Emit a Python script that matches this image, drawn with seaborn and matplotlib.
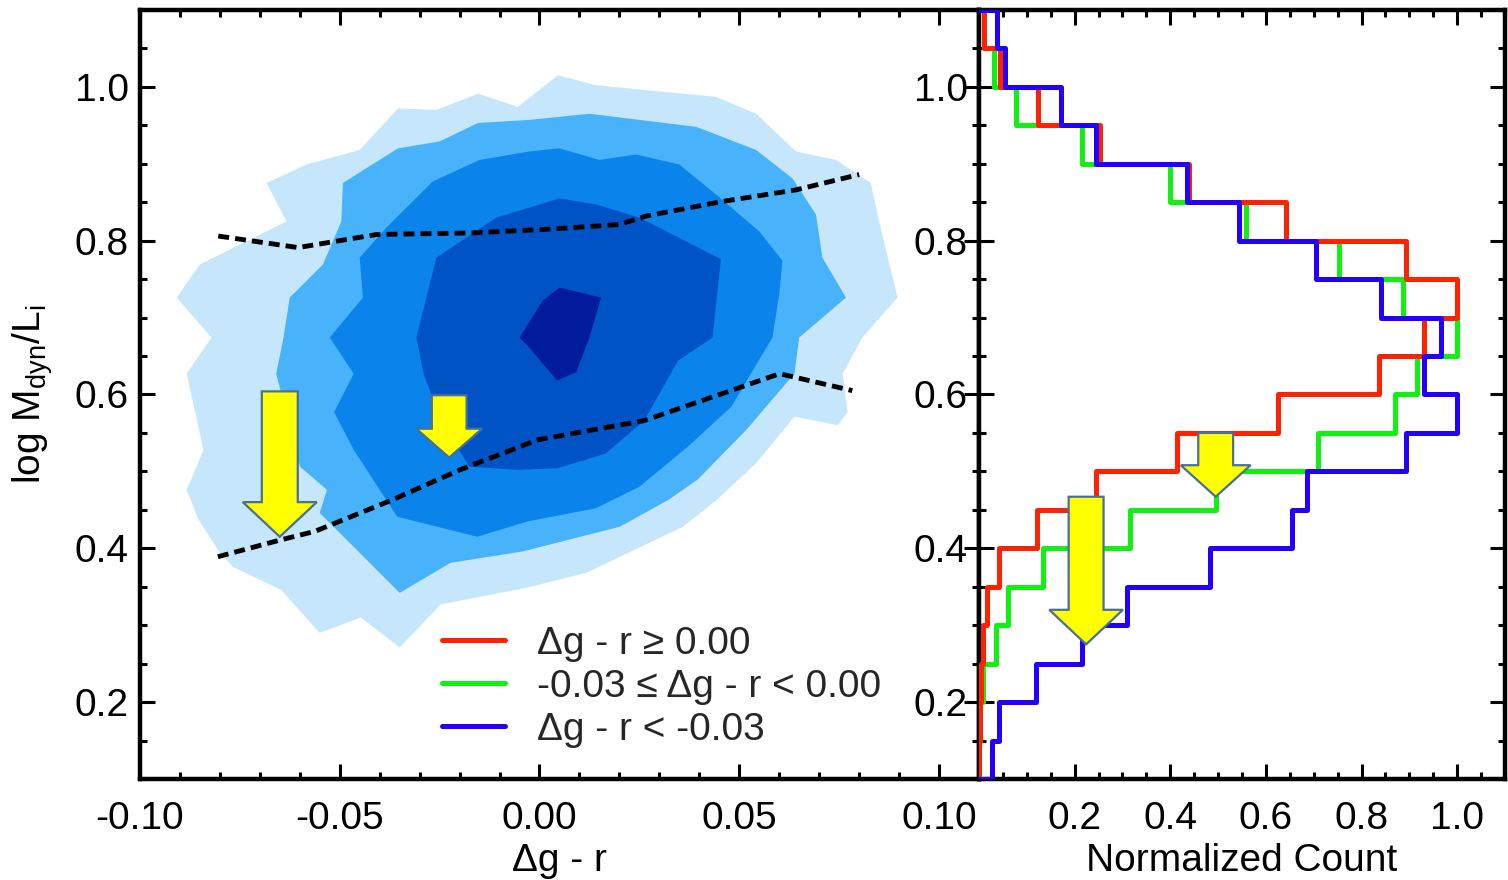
import numpy as np
import pandas as pd
import matplotlib
matplotlib.use("Agg")
import matplotlib.pyplot as plt
from matplotlib.lines import Line2D
from matplotlib.patches import FancyArrow
from matplotlib.ticker import MultipleLocator, FixedLocator, FixedFormatter
import seaborn as sns

# ---------------------------------------------------------------- data
# density contours of log Mdyn/L_i vs. delta(g - r), outermost level first
level1_x = [-0.0908, -0.0850, -0.0633, -0.0683, -0.0583, -0.0450, -0.0354, -0.0258, -0.0154, -0.0054,
            0.0046, 0.0142, 0.0442, 0.0542, 0.0642, 0.0742, 0.0829, 0.0850, 0.0896, 0.0808,
            0.0759, 0.0771, 0.0747, 0.0638, 0.0541, 0.0444, 0.0359, 0.0117, -0.0029, -0.0247,
            -0.0350, -0.0447, -0.0550, -0.0647, -0.0768, -0.0805, -0.0853, -0.0883, -0.0841, -0.0883,
            -0.0821]
level1_y = [0.726, 0.769, 0.825, 0.875, 0.899, 0.918, 0.972, 0.970, 0.991, 0.974,
            1.015, 1.002, 0.987, 0.965, 0.916, 0.905, 0.875, 0.825, 0.726, 0.674,
            0.627, 0.577, 0.560, 0.571, 0.510, 0.463, 0.428, 0.368, 0.349, 0.327,
            0.271, 0.310, 0.290, 0.346, 0.376, 0.398, 0.437, 0.476, 0.528, 0.627,
            0.674]

level2_x = [-0.0625, -0.0542, -0.0496, -0.0492, -0.0354, -0.0250, -0.0154, -0.0025, 0.0125, 0.0392,
            0.0542, 0.0633, 0.0692, 0.0708, 0.0767, 0.0650, 0.0638, 0.0516, 0.0395, 0.0323,
            0.0201, -0.0041, -0.0223, -0.0350, -0.0465, -0.0550, -0.0532, -0.0599, -0.0659, -0.0642]
level2_y = [0.726, 0.769, 0.825, 0.875, 0.920, 0.929, 0.953, 0.957, 0.965, 0.948,
            0.918, 0.881, 0.834, 0.778, 0.726, 0.674, 0.627, 0.553, 0.489, 0.463,
            0.428, 0.396, 0.381, 0.342, 0.402, 0.446, 0.476, 0.506, 0.627, 0.670]

level3_x = [-0.0525, -0.0442, -0.0450, -0.0383, -0.0267, -0.0150, -0.0025, 0.0050, 0.0150, 0.0242,
            0.0350, 0.0442, 0.0550, 0.0608, 0.0600, 0.0583, 0.0480, 0.0371, 0.0250, 0.0141,
            -0.0029, -0.0156, -0.0356, -0.0465, -0.0514, -0.0465]
level3_y = [0.674, 0.726, 0.778, 0.817, 0.877, 0.905, 0.916, 0.920, 0.905, 0.912,
            0.899, 0.860, 0.812, 0.774, 0.730, 0.674, 0.584, 0.532, 0.480, 0.452,
            0.435, 0.415, 0.441, 0.528, 0.577, 0.627]

level4_x = [-0.0308, -0.0258, -0.0108, -0.0025, 0.0050, 0.0142, 0.0250, 0.0454, 0.0433, 0.0347,
            0.0262, 0.0165, 0.0044, -0.0053, -0.0175, -0.0247, -0.0290]
level4_y = [0.674, 0.778, 0.830, 0.843, 0.855, 0.847, 0.830, 0.776, 0.674, 0.644,
            0.566, 0.523, 0.504, 0.502, 0.506, 0.566, 0.627]

level5_x = [-0.0050, 0.0008, 0.0050, 0.0154, 0.0125, 0.0092, 0.0044, -0.0029]
level5_y = [0.674, 0.722, 0.739, 0.726, 0.674, 0.629, 0.618, 0.663]

level_colors = ["#c6e6fb", "#48b3fa", "#0a83ea", "#0053c5", "#001b9b"]

# dashed envelope curves
upper_x = [-0.0804, -0.0604, -0.0408, -0.0175, 0.0025, 0.0200, 0.0267, 0.0458, 0.0642, 0.0800]
upper_y = [0.806, 0.791, 0.808, 0.810, 0.815, 0.821, 0.832, 0.851, 0.866, 0.886]
lower_x = [-0.0805, -0.0647, -0.0562, -0.0368, -0.0199, -0.0005, 0.0262, 0.0601, 0.0783]
lower_y = [0.389, 0.411, 0.422, 0.463, 0.502, 0.541, 0.566, 0.627, 0.605]

# normalized histograms of log Mdyn/L_i, bins of 0.05 from 0.10 to 1.10
bin_low = [0.10, 0.15, 0.20, 0.25, 0.30, 0.35, 0.40, 0.45, 0.50, 0.55,
           0.60, 0.65, 0.70, 0.75, 0.80, 0.85, 0.90, 0.95, 1.00, 1.05]
hist_red = [0.001, 0.003, 0.005, 0.008, 0.016, 0.041, 0.121, 0.245, 0.415, 0.626,
            0.837, 0.930, 1.000, 0.894, 0.643, 0.440, 0.253, 0.123, 0.044, 0.010]
hist_green = [0.001, 0.002, 0.009, 0.035, 0.060, 0.134, 0.315, 0.495, 0.709, 0.871,
              0.915, 1.000, 0.887, 0.752, 0.558, 0.400, 0.216, 0.077, 0.032, 0.010]
hist_blue = [0.028, 0.041, 0.120, 0.215, 0.310, 0.483, 0.655, 0.687, 0.892, 1.000,
             0.931, 0.967, 0.840, 0.704, 0.544, 0.434, 0.245, 0.171, 0.055, 0.037]

labels = ["\u0394g - r \u2265 0.00",
          "-0.03 \u2264 \u0394g - r < 0.00",
          "\u0394g - r < -0.03"]
colors = {"red": "#ff2200", "green": "#11f011", "blue": "#2200ff"}

x_ticks_left = [-0.10, -0.05, 0.00, 0.05, 0.10]
x_ticks_right = [0.0, 0.2, 0.4, 0.6, 0.8, 1.0]
y_ticks = [0.2, 0.4, 0.6, 0.8, 1.0]

# ---------------------------------------------------------------- style
sns.set_theme(style="ticks")
plt.rcParams["font.family"] = ["Liberation Sans", "DejaVu Sans"]
plt.rcParams["axes.unicode_minus"] = False
plt.rcParams["mathtext.default"] = "regular"
FS = 28

fig = plt.figure(figsize=(15.08, 8.8), dpi=100)
fig.patch.set_facecolor("white")
ax1 = fig.add_axes([0.0928, 0.1148, 0.5564, 0.8739])
ax2 = fig.add_axes([0.6492, 0.1148, 0.3488, 0.8739])


def frame(ax):
    ax.set_facecolor("white")
    ax.grid(False)
    for s in ax.spines.values():
        s.set_visible(True)
        s.set_linewidth(3.2)
        s.set_color("black")
    ax.tick_params(which="both", direction="in", top=True, right=True,
                   bottom=True, left=True, color="black", width=2.2,
                   labelsize=FS, labelcolor="black")
    ax.tick_params(which="major", length=11)
    ax.tick_params(which="minor", length=5)
    ax.tick_params(axis="x", which="both", pad=16)
    ax.tick_params(axis="y", which="both", pad=8)


# ---------------------------------------------------------------- left panel
levels = [(level1_x, level1_y), (level2_x, level2_y), (level3_x, level3_y),
          (level4_x, level4_y), (level5_x, level5_y)]
for (lx, ly), c in zip(levels, level_colors):
    ax1.fill(lx, ly, color=c, linewidth=0, zorder=1)

dash = (0, (2.25, 1.25))
sns.lineplot(x=upper_x, y=upper_y, sort=False, estimator=None, color="black",
             linewidth=3.5, linestyle=dash, ax=ax1, zorder=3)
sns.lineplot(x=lower_x, y=lower_y, sort=False, estimator=None, color="black",
             linewidth=3.5, linestyle=dash, ax=ax1, zorder=3)

ax1.set_xlim(-0.10, 0.11)
ax1.set_ylim(0.10, 1.10)
frame(ax1)
ax1.xaxis.set_major_locator(FixedLocator(x_ticks_left))
ax1.xaxis.set_major_formatter(FixedFormatter([f"{v:.2f}" for v in x_ticks_left]))
ax1.xaxis.set_minor_locator(MultipleLocator(0.01))
ax1.yaxis.set_major_locator(FixedLocator(y_ticks))
ax1.yaxis.set_major_formatter(FixedFormatter([f"{v:.1f}" for v in y_ticks]))
ax1.yaxis.set_minor_locator(MultipleLocator(0.05))
ax1.set_xlabel("\u0394g - r", fontsize=FS, labelpad=4, color="black")
ax1.set_ylabel("log M$_{dyn}$/L$_{i}$", fontsize=FS, labelpad=14, color="black")

arrow_kw = dict(facecolor="#ffff00", edgecolor="#4a6f96", linewidth=1.6,
                length_includes_head=True, zorder=6)
ax1.add_patch(FancyArrow(-0.0650, 0.604, 0, -0.189, width=0.0090,
                         head_width=0.0185, head_length=0.045, **arrow_kw))
ax1.add_patch(FancyArrow(-0.0226, 0.599, 0, -0.081, width=0.0087,
                         head_width=0.0165, head_length=0.0375, **arrow_kw))

handles = [Line2D([], [], color=colors[k], linewidth=3.6) for k in ("red", "green", "blue")]
ax1.legend(handles, labels, loc="upper left", bbox_to_anchor=(0.36, 0.199),
           frameon=False, fontsize=FS, handlelength=1.63, handletextpad=0.82,
           borderpad=0, borderaxespad=0, labelspacing=0.18)

# ---------------------------------------------------------------- right panel
# one empty bin on each side closes the outline along the frame
bin_edges = [0.05] + list(bin_low) + [1.10, 1.15]
centers = [round(e + 0.025, 4) for e in bin_edges[:-1]]
for key, vals in (("green", hist_green), ("red", hist_red), ("blue", hist_blue)):
    df = pd.DataFrame({"mlr": centers, "count": [0.0] + list(vals) + [0.0]})
    sns.histplot(data=df, y="mlr", weights="count", bins=bin_edges, element="step",
                 fill=False, color=colors[key], linewidth=3.6, ax=ax2, zorder=4)

ax2.set_xlim(0.0, 1.10)
ax2.set_ylim(0.10, 1.10)
frame(ax2)
ax2.xaxis.set_major_locator(FixedLocator(x_ticks_right))
ax2.xaxis.set_major_formatter(FixedFormatter([""] + [f"{v:.1f}" for v in x_ticks_right[1:]]))
ax2.xaxis.set_minor_locator(MultipleLocator(0.05))
ax2.yaxis.set_major_locator(FixedLocator(y_ticks))
ax2.yaxis.set_major_formatter(FixedFormatter([f"{v:.1f}" for v in y_ticks]))
ax2.yaxis.set_minor_locator(MultipleLocator(0.05))
ax2.set_xlabel("Normalized Count", fontsize=FS, labelpad=4, color="black")
ax2.set_ylabel("")

ax2.add_patch(FancyArrow(0.495, 0.550, 0, -0.083, width=0.073,
                         head_width=0.146, head_length=0.041, **arrow_kw))
ax2.add_patch(FancyArrow(0.224, 0.467, 0, -0.192, width=0.073,
                         head_width=0.154, head_length=0.045, **arrow_kw))

fig.savefig("out.png", dpi=100, facecolor="white")
